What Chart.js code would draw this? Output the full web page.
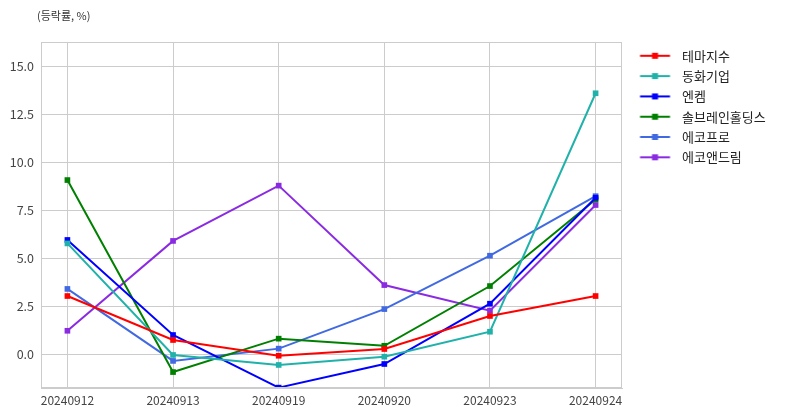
<!DOCTYPE html>
<html><head><meta charset="utf-8">
<script src="https://cdn.jsdelivr.net/npm/chart.js@4/dist/chart.umd.min.js"></script>
<style>html,body{margin:0;padding:0;background:#fff}#wrap{width:792px;height:416px;position:relative}</style>
</head><body><div id="wrap"><canvas id="c" width="792" height="416"></canvas></div>
<script>
const categories = ['20240912','20240913','20240919','20240920','20240923','20240924'];
const seriesNames = ['테마지수','동화기업','엔켐','솔브레인홀딩스','에코프로','에코앤드림'];
const themeIdx   = [3.02, 0.73, -0.09, 0.26, 1.98, 3.02];
const donghwa    = [5.76, -0.05, -0.57, -0.14, 1.16, 13.58];
const enchem     = [5.94, 0.99, -1.75, -0.52, 2.62, 8.14];
const soulbrain  = [9.06, -0.94, 0.80, 0.43, 3.54, 8.05];
const ecopro     = [3.39, -0.36, 0.28, 2.34, 5.12, 8.22];
const ecoNdream  = [1.21, 5.89, 8.77, 3.59, 2.26, 7.76];
const yTicks = [0, 2.5, 5, 7.5, 10, 12.5, 15];
const titleText = '(등락률, %)';

const allSeries = [themeIdx, donghwa, enchem, soulbrain, ecopro, ecoNdream];
const colors = ['#ff0000','#20b2aa','#0000ff','#008000','#4169e1','#8a2be2'];
const FONT = "'Noto Sans CJK KR', 'Noto Sans', sans-serif";

function legendIcon(color){
  const c = document.createElement('canvas');
  c.width = 46; c.height = 10;
  const g = c.getContext('2d');
  g.strokeStyle = color; g.lineWidth = 2;
  g.beginPath(); g.moveTo(10.6, 5); g.lineTo(40.6, 5); g.stroke();
  g.fillStyle = color; g.fillRect(22.6, 2, 6, 6);
  return c;
}
const icons = colors.map(legendIcon);

const datasets = allSeries.map((vals, i) => ({
  label: seriesNames[i],
  data: vals.map((v, j) => ({x: j, y: v})),
  borderColor: colors[i],
  backgroundColor: colors[i],
  borderWidth: 2,
  pointStyle: 'rect',
  pointRadius: 4,
  pointBorderWidth: 0,
  pointHoverRadius: 4,
  tension: 0
}));

const legendFix = {
  id: 'legendFix',
  beforeInit(chart){
    const orig = chart.legend.fit;
    chart.legend.fit = function(){ orig.call(this); this.width = 170; };
  }
};
const frameAndTitle = {
  id: 'frameAndTitle',
  afterDraw(chart){
    const {ctx, chartArea: a} = chart;
    ctx.save();
    ctx.strokeStyle = '#cccccc'; ctx.lineWidth = 1;
    ctx.strokeRect(Math.round(a.left)+0.5, Math.round(a.top)+0.5, Math.round(a.right-a.left)-1, Math.round(a.bottom-a.top)-1);
    ctx.fillStyle = '#333333';
    ctx.font = '11px ' + FONT;
    ctx.textBaseline = 'middle';
    ctx.fillText(titleText, 37, 16);
    ctx.restore();
  }
};

new Chart(document.getElementById('c'), {
  type: 'line',
  data: { datasets },
  options: {
    responsive: false,
    animation: false,
    devicePixelRatio: 1,
    layout: { padding: { top: 42, left: 0, right: 0, bottom: 0 } },
    plugins: {
      tooltip: { enabled: false },
      title: { display: false },
      legend: {
        position: 'right',
        align: 'start',
        labels: {
          usePointStyle: true,
          pointStyleWidth: 46.2,
          padding: 7.3,
          color: '#222222',
          font: { family: FONT, size: 13 },
          generateLabels(chart){
            return chart.data.datasets.map((d, i) => ({
              text: d.label, pointStyle: icons[i], fillStyle: colors[i],
              strokeStyle: colors[i], lineWidth: 0, datasetIndex: i, hidden: false, fontColor: '#222222'
            }));
          }
        }
      }
    },
    scales: {
      x: {
        type: 'linear', min: -0.25, max: 5.25,
        afterBuildTicks(scale){ scale.ticks = categories.map((_, i) => ({value: i})); },
        afterFit(scale){ scale.height = 28; },
        ticks: { callback: (v) => categories[v], color: '#444444', padding: 5, maxRotation: 0, autoSkip: false,
                 font: { family: FONT, size: 12 } },
        grid: { color: '#cccccc', drawTicks: false, lineWidth: 1 },
        border: { color: '#cccccc' }
      },
      y: {
        min: -1.77, max: 16.25,
        afterBuildTicks(scale){ scale.ticks = yTicks.map(v => ({value: v})); },
        afterFit(scale){ scale.width = 41; },
        ticks: { callback: (v) => Number(v).toFixed(1), color: '#444444', padding: 7,
                 font: { family: FONT, size: 12.5 } },
        grid: { color: '#cccccc', drawTicks: false, lineWidth: 1 },
        border: { color: '#cccccc' }
      }
    }
  },
  plugins: [legendFix, frameAndTitle]
});
</script></body></html>
